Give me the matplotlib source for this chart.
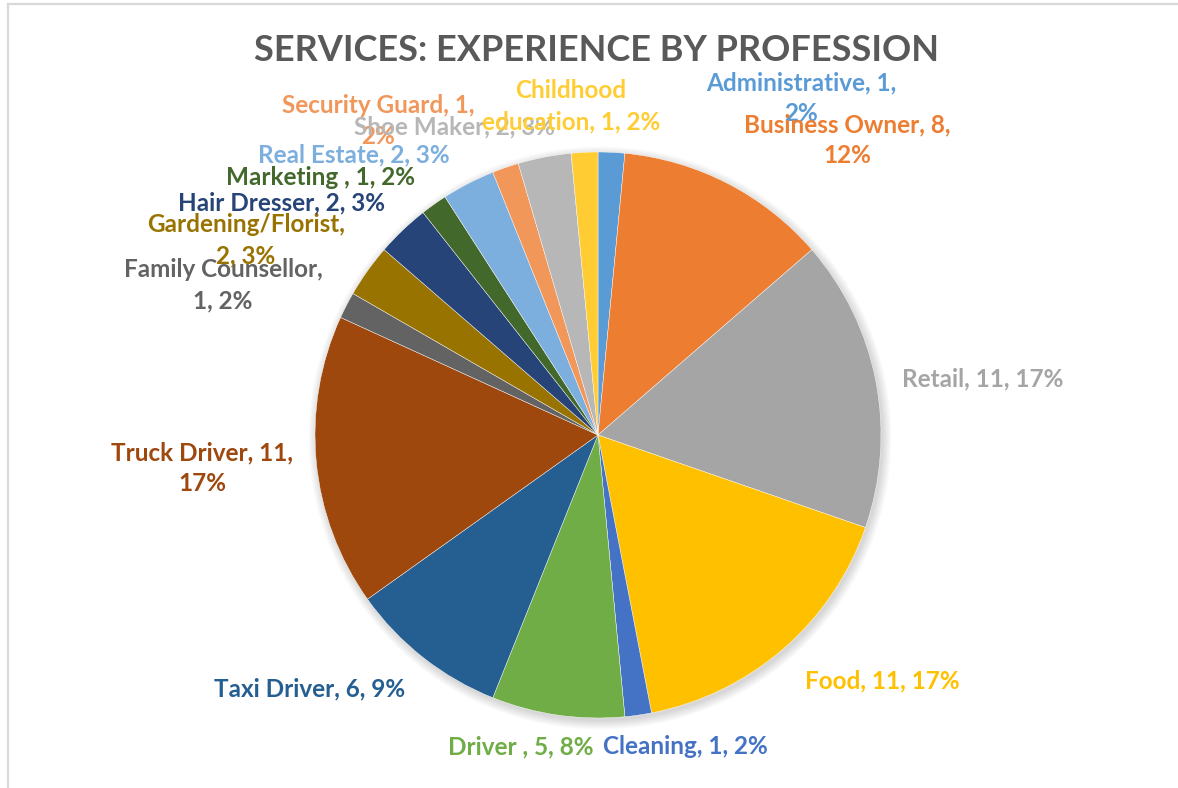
import matplotlib.pyplot as plt
from matplotlib.patches import Circle
from matplotlib.lines import Line2D

# data, clockwise from 12 o'clock
professions = ['Administrative', 'Business Owner', 'Retail', 'Food', 'Cleaning',
               'Driver ', 'Taxi Driver', 'Truck Driver', 'Family Counsellor',
               'Gardening/Florist', 'Hair Dresser', 'Marketing ', 'Real Estate',
               'Security Guard', 'Shoe Maker', 'Childhood\neducation']
counts = [1, 8, 11, 11, 1, 5, 6, 11, 1, 2, 2, 1, 2, 1, 2, 1]

# Excel office palette
colors = ['#5B9BD5', '#ED7D31', '#A5A5A5', '#FFC000', '#4472C4', '#70AD47',
          '#255E91', '#9E480E', '#636363', '#997300', '#264478', '#43682B',
          '#7CAFDD', '#F1975A', '#B7B7B7', '#FFCD33']

# label layout: where to break the line (0 none, 1 after name, 2 before pct)
label_break = [2, 2, 0, 0, 0, 0, 0, 2, 1, 1, 0, 0, 0, 2, 0, 0]
# label centres in pixels (x, y from top)
label_xy = [(801, 98), (847, 140), (983, 379), (882, 681), (685, 747),
            (521, 747), (310, 689), (202, 468), (223, 285), (246, 240),
            (282, 203), (320, 177), (354, 155), (378, 121), (455, 127),
            (571, 106)]

W, H = 1178, 788
cx, cy, R = 598, 435, 283

fig = plt.figure(figsize=(W / 100, H / 100), dpi=100)
ax = fig.add_axes([0, 0, 1, 1])

font = ['Lato', 'DejaVu Sans']

# soft shadow behind the pie
for i in range(8):
    ax.add_patch(Circle((cx + 2, H - cy - 3), R + i * 1.2, color='black',
                        alpha=0.018, lw=0, zorder=0))

ax.pie(counts, colors=colors, startangle=90, counterclock=False,
       center=(cx, H - cy), radius=R, frame=True,
       wedgeprops=dict(linewidth=0.3, edgecolor='white'))
ax.set_xlim(0, W)
ax.set_ylim(0, H)
ax.set_aspect('equal')
ax.axis('off')

total = sum(counts)
for name, v, c, brk, (lx, ly) in zip(professions, counts, colors, label_break, label_xy):
    pct = f"{round(v / total * 100)}%"
    if brk == 1:
        txt = f"{name},\n{v}, {pct}"
    elif brk == 2:
        txt = f"{name}, {v},\n{pct}"
    else:
        txt = f"{name}, {v}, {pct}"
    ax.text(lx, H - ly, txt, ha='center', va='center', color=c, fontsize=17.5,
            fontweight='bold', family=font, linespacing=1.42, zorder=5)

ax.text(597, H - 50, 'SERVICES: EXPERIENCE BY PROFESSION', ha='center', va='center',
        color='#595959', fontsize=26, fontweight='bold', family=font)

# chart border
fig.add_artist(Line2D([8 / W, 1], [1 - 4 / H, 1 - 4 / H], color='#D9D9D9', lw=1.6))
fig.add_artist(Line2D([8 / W, 8 / W], [0, 1 - 4 / H], color='#D9D9D9', lw=1.6))

fig.savefig('out.png', dpi=100, facecolor='white')
